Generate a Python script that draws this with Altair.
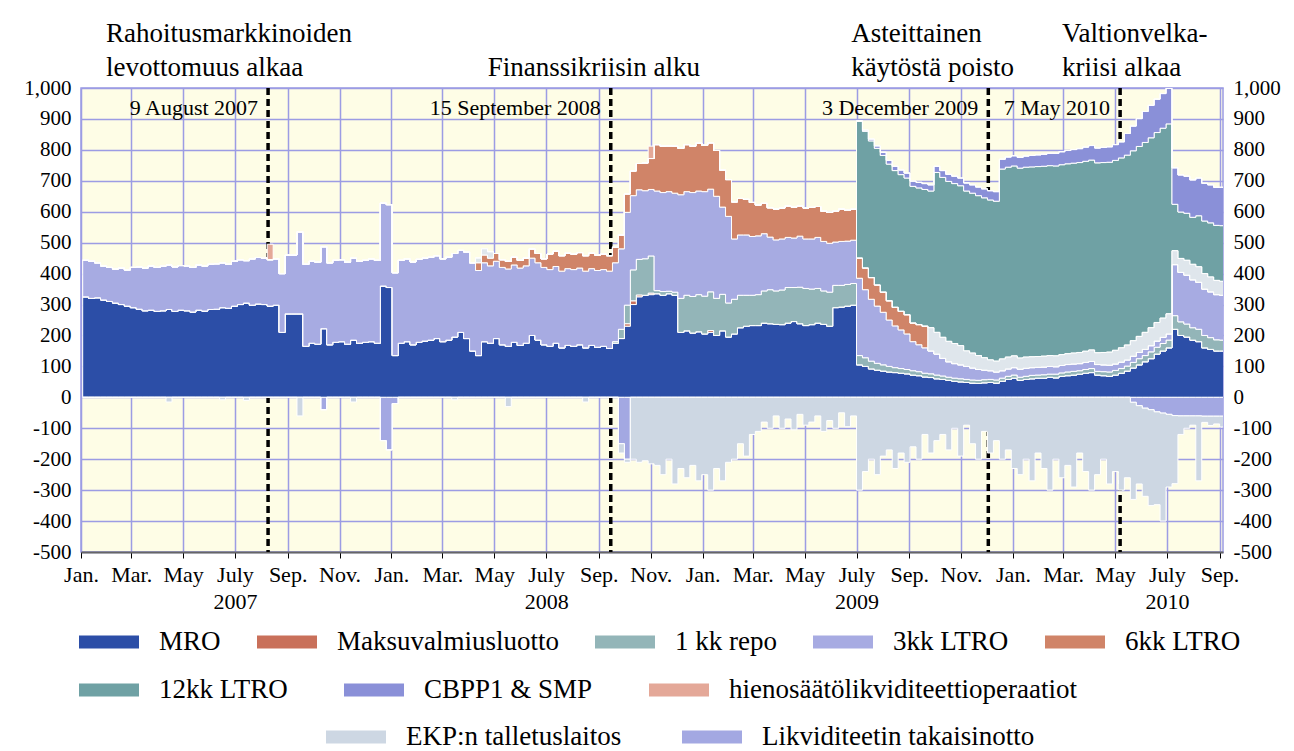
import altair as alt
import numpy as np
import pandas as pd

# ---------------- data (weekly, Wednesdays) ----------------
dates = pd.date_range("2007-01-03", "2010-09-08", freq="7D")

mro = (
    [325, 320, 322, 315, 310, 305, 300, 295, 290, 285, 280, 282, 278, 280, 284, 278, 282,
     280, 276, 282, 279, 284, 285, 290, 288, 295, 300, 305, 298, 302, 300, 295, 298, 210, 270,
     270, 270, 165, 175, 172, 222, 170, 178, 180, 172, 185, 175, 178, 180, 175, 360, 355]
    + [135, 175, 180, 170, 178, 182, 185, 190, 180, 185, 195, 210, 190, 150, 135, 180, 175, 190,
       170, 165, 178, 168, 175, 200, 185, 170, 165, 175, 160, 168, 165, 170, 160, 168, 162,
       165, 158, 175, 190, 230, 300, 325, 330, 332, 335, 330, 335, 330, 210, 215, 208, 212, 205]
    + [210, 200, 215, 195, 205, 225, 230, 232, 232, 240, 238, 236, 235, 240, 245, 238, 232,
       235, 240, 236, 230, 290, 292, 295, 298, 105, 100, 92, 88, 85, 82, 80, 78, 76,
       72, 70, 66, 64, 60, 58, 55, 52, 50, 48, 46, 45, 47, 48, 46, 52, 58, 62]
    + [55, 58, 60, 62, 62, 65, 63, 68, 70, 72, 75, 78, 80, 72, 70, 68, 72, 78, 85, 95, 105,
       115, 125, 140, 150, 160, 220, 200, 195, 185, 180, 160, 155, 150, 150, 145]
)

maksuvalmius = [0] * 52 + [0] * 39 + [8, 12, 6, 0, 5] + [0] * 9 + [6] + [0] * 51 + [0] * 36

repo_1kk = (
    [0] * 52
    + [0] * 35 + [0, 0, 5, 30, 60, 100, 115, 118, 120, 10, 12, 8, 10, 110, 115, 118, 120, 122]
    + [125, 120, 118, 110, 112, 105, 100, 98, 100, 104, 110, 108, 112, 115, 110, 118, 120,
       115, 112, 108, 110, 72, 70, 70, 70, 30, 28, 25, 22, 20, 18, 16, 15, 14,
       14, 13, 12, 12, 12, 11, 10, 10, 10, 10, 10, 10, 10, 10, 10, 10, 10, 10]
    + [10, 10, 11, 10, 11, 10, 12, 11, 12, 12, 11, 12, 13, 12, 13, 14, 15, 15, 16, 18, 20,
       20, 22, 22, 24, 25, 44, 44, 42, 40, 40, 40, 38, 36, 35, 35]
)

ltro_3kk = (
    [118, 120, 113, 110, 110, 110, 118, 117, 130, 137, 138, 143, 142, 144, 144, 144, 144,
     145, 144, 146, 146, 146, 147, 145, 142, 145, 145, 137, 150, 150, 150, 150, 150, 190, 190,
     190, 265, 265, 265, 265, 265, 265, 265, 265, 265, 265, 265, 265, 268, 268, 268, 268]
    + [268, 268, 268, 268, 268, 268, 268, 268, 268, 268, 270, 265, 280, 285, 275, 255, 250, 250,
       250, 250, 250, 250, 250, 250, 250, 250, 248, 248, 248, 248, 248, 248, 248, 248, 248,
       248, 250, 255, 260, 300, 240, 225, 220, 215, 322, 320, 322, 320, 335, 335, 336, 335, 338]
    + [332, 330, 282, 280, 195, 195, 195, 190, 190, 185, 170, 165, 165, 162, 160, 165, 160,
       162, 165, 160, 158, 140, 142, 140, 140, 250, 220, 200, 185, 170, 150, 135, 125, 115,
       94, 87, 82, 74, 68, 57, 50, 47, 45, 42, 39, 35, 31, 28, 26, 24, 24, 24]
    + [26, 26, 25, 25, 25, 25, 24, 24, 24, 24, 23, 23, 23, 22, 22, 22, 21, 21, 20, 20, 20,
       20, 20, 20, 20, 20, 165, 160, 158, 155, 152, 150, 148, 146, 145, 143]
)

ltro_6kk = (
    [0] * 52
    + [0] * 13 + [0, 25, 25, 25, 25, 25, 25, 25, 25, 25, 30, 30, 28, 50, 50, 50, 50, 50,
                  50, 50, 50, 50, 50, 50, 50, 45, 60, 80, 85, 90, 100, 150, 150, 148, 152,
                  150, 152, 150, 155, 150]
    + [150, 148, 120, 119, 120, 118, 115, 110, 100, 98, 95, 100, 100, 102, 100, 98, 100,
       102, 100, 98, 100, 100, 105, 100, 100, 65, 70, 70, 68, 65, 62, 60, 60, 62,
       60, 65, 70, 0, 0] + [0] * 13
    + [0] * 36
)

muut = (
    [0] * 52
    + [0] * 13 + [0, 15, 20, 20, 0] + [0] * 35
    + [0] * 34 + [0, 0, 0, 75, 70, 68, 66, 65, 62, 50, 48, 45, 40, 35, 35, 38, 38, 38]
    + [36, 36, 35, 35, 35, 35, 35, 35, 35, 35, 36, 36, 37, 38, 40, 42, 44, 46, 48, 50, 52,
       55, 58, 60, 62, 65, 45, 45, 48, 50, 50, 50, 48, 46, 45, 45]
)

ltro_12kk = (
    [0] * 52 + [0] * 53
    + [0] * 25 + [442] * 5 + [442] * 4 + [442, 442, 442, 442, 517] + [517] * 8
    + [517, 517, 614, 614, 614]
    + [614] * 26 + [150, 150, 152, 152, 165, 170, 175, 178, 180, 180]
)

cbpp_smp = (
    [0] * 52 + [0] * 53
    + [0] * 25 + [2, 4, 6, 8, 10, 12, 14, 15, 16, 17, 18, 19, 20, 20, 22, 23, 24, 25,
                  26, 27, 28, 29, 30, 31, 32, 33, 33]
    + [35, 36, 37, 38, 39, 40, 41, 42, 43, 44, 45, 46, 47, 48, 49, 50, 51, 52, 70, 80, 90,
       100, 105, 108, 112, 115, 118, 120, 120, 121, 122, 122, 123, 123, 124, 124]
)

hienosaato = [0] * 31 + [50] + [0] * 20 + [0] * 43 + [40] + [0] * 9 + [0] * 52 + [0] * 36

takaisinotto = (
    [0] * 40 + [40] + [0] * 9 + [140, 170]
    + [20] + [0] * 37 + [150, 200] + [0] * 13
    + [0] * 52
    + [0] * 17 + [0, 0, 16, 27, 35, 40, 47, 51, 55, 59, 60, 60, 60, 60, 61, 61, 61, 61, 61]
)

talletus = (
    [0] * 14 + [15] + [0] * 8 + [8] + [0] * 3 + [10] + [0] * 8 + [60] + [0] * 8 + [15] + [0] * 6
    + [0] * 10 + [8] + [0] * 8 + [30] + [0] * 12 + [15] + [0] * 5 + [30]
    + [10, 200, 210, 205, 215, 220, 250, 200, 280, 230, 260, 220, 270, 250]
    + [300, 230, 270, 210, 200, 150, 190, 120, 110, 80, 100, 60, 100, 70, 105, 55, 90,
       80, 60, 110, 75, 100, 50, 95, 60, 300, 240, 200, 250, 190, 170, 230, 180, 210,
       160, 200, 120, 180, 140, 120, 170, 100, 190, 90, 150, 200, 110, 180, 140, 200, 170, 230]
    + [250, 200, 270, 180, 230, 300, 200, 260, 220, 290, 180, 240, 300, 250, 200, 280, 240,
       300, 260, 314, 253, 285, 310, 300, 349, 235, 220, 60, 40, 30, 210, 20, 30, 25, 35, 30]
)

event_dates = ["2007-08-09", "2008-09-15", "2009-12-03", "2010-05-07"]
event_labels = ["9 August 2007", "15 September 2008", "3 December 2009", "7 May 2010"]
top_labels = ["Rahoitusmarkkinoiden\nlevottomuus alkaa", "\nFinanssikriisin alku",
              "Asteittainen\nkäytöstä poisto", "Valtionvelka-\nkriisi alkaa"]

# ---------------- series definitions ----------------
row1 = ["MRO", "Maksuvalmiusluotto", "1 kk repo", "3kk LTRO", "6kk LTRO"]
row2 = ["12kk LTRO", "CBPP1 & SMP", "hienosäätölikviditeettioperaatiot"]
row3 = ["EKP:n talletuslaitos", "Likviditeetin takaisinotto"]
colors1 = ["#2c4ea7", "#c9705a", "#93b5b8", "#a7abe2", "#d08468"]
colors2 = ["#6fa1a4", "#8a90d8", "#e4a898"]
colors3 = ["#cdd7e3", "#a3a8e2"]
muut_color = "#dfe6ec"

values = {
    "MRO": mro, "Maksuvalmiusluotto": maksuvalmius, "1 kk repo": repo_1kk,
    "3kk LTRO": ltro_3kk, "6kk LTRO": ltro_6kk, "muut": muut, "12kk LTRO": ltro_12kk,
    "CBPP1 & SMP": cbpp_smp, "hienosäätölikviditeettioperaatiot": hienosaato,
    "Likviditeetin takaisinotto": takaisinotto, "EKP:n talletuslaitos": talletus,
}
group = {n: 1 for n in row1}
group.update({n: 2 for n in row2})
group.update({n: 3 for n in row3})
group["muut"] = 0

pos_order = ["MRO", "Maksuvalmiusluotto", "1 kk repo", "3kk LTRO", "6kk LTRO", "muut",
             "12kk LTRO", "CBPP1 & SMP", "hienosäätölikviditeettioperaatiot"]
neg_order = ["Likviditeetin takaisinotto", "EKP:n talletuslaitos"]

n = len(dates)
for k, v in values.items():
    assert len(v) == n, (k, len(v))

date_str = [d.strftime("%Y-%m-%d") for d in dates]
rows = []
base = np.zeros(n)
for name in pos_order:
    top = base + np.array(values[name], float)
    for d, a, b in zip(date_str, base, top):
        rows.append({"date": d, "series": name, "y0": a, "y1": b, "grp": group[name]})
    base = top
base = np.zeros(n)
for name in neg_order:
    bot = base - np.array(values[name], float)
    for d, a, b in zip(date_str, base, bot):
        rows.append({"date": d, "series": name, "y0": a, "y1": b, "grp": group[name]})
    base = bot
long = pd.DataFrame(rows)

events = pd.DataFrame({"date": event_dates, "label": event_labels, "top": top_labels})

# ---------------- encodings ----------------
FONT = "Liberation Serif"
GRID = "#9c9ce4"
ms = lambda s: int(pd.Timestamp(s).value // 10**6)
x_ticks = [ms(t) for t in pd.date_range("2007-01-01", "2010-09-01", freq="2MS")]

x_axis = alt.Axis(
    values=x_ticks, grid=True, gridColor=GRID, gridWidth=1.5, title=None,
    labelExpr="utcmonth(datum.value) == 6 ? ['July', '' + utcyear(datum.value)] : "
              "['Jan.','Feb.','Mar.','Apr.','May','June','July','Aug.','Sep.','Oct.','Nov.','Dec.'][utcmonth(datum.value)]",
    labelFont=FONT, labelFontSize=22, labelColor="black", labelLineHeight=27,
    labelFlush=False, labelOverlap=False, labelPadding=6,
    tickColor="black", tickSize=6, domainColor="#666666", domainWidth=2,
)
X = alt.X("date:T", scale=alt.Scale(type="utc", domain=[ms("2007-01-01"), ms("2010-09-05")]),
          axis=x_axis)

y_vals = list(range(-500, 1001, 100))
y_lab = "datum.value < 0 ? '-' + format(-datum.value, ',') : format(datum.value, ',')"
y_scale = alt.Scale(domain=[-500, 1000], nice=False, zero=False)
left_axis = alt.Axis(values=y_vals, labelExpr=y_lab, grid=True, gridColor=GRID, gridWidth=1.5,
                     domain=False, ticks=False, labelPadding=10, labelFont=FONT,
                     labelFontSize=21, labelColor="black", title=None)
right_axis = alt.Axis(values=y_vals, labelExpr=y_lab, grid=False, orient="right",
                      domain=False, ticks=False, labelPadding=10, labelFont=FONT,
                      labelFontSize=21, labelColor="black", title=None)

swatch = "M-1,-0.22H1V0.22H-1Z"


def legend(x, y, pad):
    return alt.Legend(orient="none", legendX=x, legendY=y, direction="horizontal", title=None,
                      symbolType=swatch, symbolSize=3600, symbolStrokeWidth=0,
                      labelFont=FONT, labelFontSize=27, labelColor="black", labelOffset=20,
                      columnPadding=pad, labelLimit=1000, padding=0)


def area_layer(grp, y_axis, color):
    return (
        alt.Chart(long)
        .transform_filter(f"datum.grp == {grp}")
        .mark_area(interpolate="step-after", stroke="white", strokeWidth=1, clip=True)
        .encode(x=X, y=alt.Y("y1:Q", scale=y_scale, axis=y_axis), y2=alt.Y2("y0:Q"),
                color=color)
    )


rules = alt.Chart(events).mark_rule(color="black", strokeWidth=3.5, strokeDash=[7, 4]).encode(x=X)

a1 = area_layer(1, left_axis, alt.Color("series:N", scale=alt.Scale(domain=row1, range=colors1),
                                        legend=legend(-2, 524, 36)))
a2 = area_layer(2, right_axis, alt.Color("series:N", scale=alt.Scale(domain=row2, range=colors2),
                                         legend=legend(-2, 572, 56)))
a3 = area_layer(3, None, alt.Color("series:N", scale=alt.Scale(domain=row3, range=colors3),
                                   legend=legend(245, 619, 60)))
a0 = area_layer(0, None, alt.value(muut_color))

inner = alt.Chart(events).mark_text(
    align="right", baseline="middle", dx=-10, font=FONT, fontSize=22, color="black"
).encode(x=X, y=alt.value(20), text="label:N")

top_dx = [-162, -123, -137, -58]
tops = []
for i, dx in enumerate(top_dx):
    tops.append(
        alt.Chart(events.iloc[[i]]).mark_text(
            align="left", baseline="alphabetic", dx=dx, font=FONT, fontSize=27, lineHeight=34,
            lineBreak="\n", color="black"
        ).encode(x=X, y=alt.value(-46), text="top:N")
    )

chart = (
    alt.layer(rules, a1, a2, a0, a3, inner, *tops)
    .resolve_scale(color="independent")
    .resolve_axis(y="independent")
    .properties(width=1142, height=464, background="white",
                padding={"left": 15, "top": 12, "right": 2, "bottom": 2})
    .configure_view(fill="#fefde6", stroke=GRID, strokeWidth=1.5)
)

chart.save("out.html", embed_options={"renderer": "svg", "actions": False})
